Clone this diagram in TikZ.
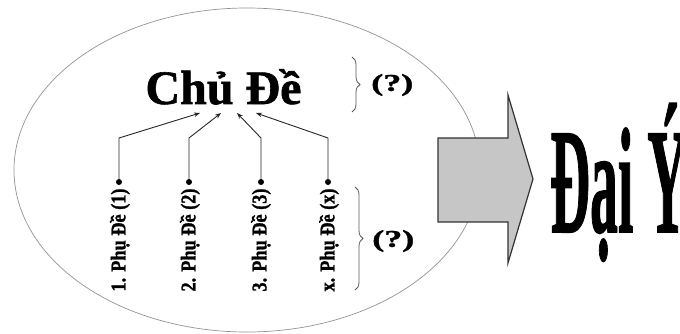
\documentclass[tikz,border=0pt]{standalone}
\usepackage{fontspec}
\setmainfont{Liberation Serif}
\newfontfamily\heavyfont{Liberation Serif Bold}[FakeBold=1.2]
\usetikzlibrary{arrows.meta,decorations.pathreplacing}
\begin{document}
\begin{tikzpicture}[x=1pt,y=-1pt,
  outline/.style={draw=gray!85, line width=0.7pt},
  conn/.style={draw=black!85, line width=0.9pt, -{Stealth[length=6pt,width=4.5pt]}},
  dotnode/.style={circle, fill=black, inner sep=0pt, minimum size=6pt},
  subtext/.style={rotate=90, xscale=0.87, font=\fontsize{21}{21}\selectfont\heavyfont, inner sep=0pt},
  qlabel/.style={anchor=west, xscale=1.5, font=\fontsize{24}{24}\selectfont\heavyfont, inner sep=0pt},
  bracestyle/.style={draw=gray!70!black, line width=0.8pt, decorate, decoration={brace, amplitude=8pt}},
  bigarrow/.style={fill=gray!45, draw=black!80, line width=1.2pt}]
\useasboundingbox (0,0) rectangle (680,334);
% ellipse
\draw[outline] (247,170) ellipse [x radius=233pt, y radius=162pt];
% topic
\node[font=\fontsize{48}{48}\selectfont\heavyfont, anchor=base, inner sep=0pt] (topic) at (223.5,104) {Chủ Đề};
% subtopics
\node[subtext] (s1) at (120,240) {1. Phụ Đề (1)};
\node[subtext] (s2) at (190,240) {2. Phụ Đề (2)};
\node[subtext] (s3) at (261,240) {3. Phụ Đề (3)};
\node[subtext] (s4) at (329,240) {x. Phụ Đề (x)};
% dots
\node[dotnode] (d1) at (119,182) {};
\node[dotnode] (d2) at (189,182) {};
\node[dotnode] (d3) at (261,182) {};
\node[dotnode] (d4) at (328,182) {};
% bends and tips
\coordinate (b1) at (119,138);
\coordinate (b2) at (189,138);
\coordinate (b3) at (261,138);
\coordinate (b4) at (328,138);
\coordinate (t1) at (200,113);
\coordinate (t2) at (221,113);
\coordinate (t3) at (237,113);
\coordinate (t4) at (256,113);
\draw[conn] (d1) -- (b1) -- (t1);
\draw[conn] (d2) -- (b2) -- (t2);
\draw[conn] (d3) -- (b3) -- (t3);
\draw[conn] (d4) -- (b4) -- (t4);
% braces
\draw[bracestyle] (352,57) -- (352,112);
\node[qlabel] (q1) at (371,85) {(?)};
\draw[bracestyle] (355,187) -- (355,290);
\node[qlabel] (q2) at (372,241) {(?)};
% big arrow
\draw[bigarrow] (438,138) -- (508,138) -- (508,95) -- (533,179) -- (508,263) -- (508,222) -- (438,222) -- cycle;
% main idea
\node[anchor=base west, inner sep=0pt, xscale=0.37, font=\fontsize{150}{150}\selectfont\heavyfont] (main) at (550,232) {Đại Ý};
\end{tikzpicture}
\end{document}
